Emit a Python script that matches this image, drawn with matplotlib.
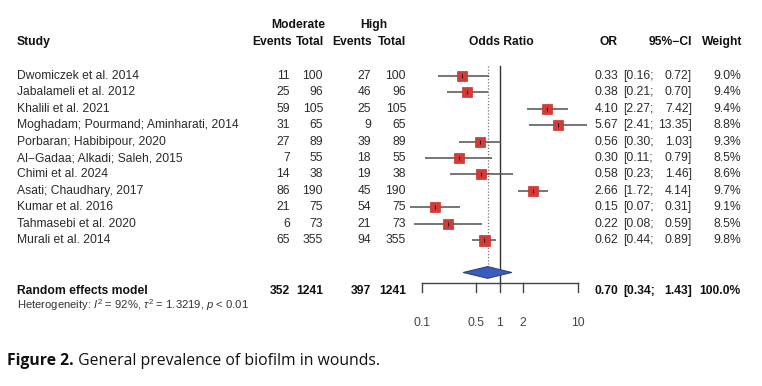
import matplotlib
matplotlib.use("Agg")
import matplotlib.pyplot as plt
from matplotlib.transforms import blended_transform_factory

# Fonts
plt.rcParams["font.family"] = ["Liberation Sans", "DejaVu Sans"]
plt.rcParams["mathtext.fontset"] = "custom"
plt.rcParams["mathtext.rm"] = "Liberation Sans"
plt.rcParams["mathtext.it"] = "Liberation Sans:italic"

# Data
studies = ["Dwomiczek et al. 2014", "Jabalameli et al. 2012", "Khalili et al. 2021",
           "Moghadam; Pourmand; Aminharati, 2014", "Porbaran; Habibipour, 2020",
           "Al\u2212Gadaa; Alkadi; Saleh, 2015", "Chimi et al. 2024", "Asati; Chaudhary, 2017",
           "Kumar et al. 2016", "Tahmasebi et al. 2020", "Murali et al. 2014"]
events_mod = [11, 25, 59, 31, 27, 7, 14, 86, 21, 6, 65]
total_mod = [100, 96, 105, 65, 89, 55, 38, 190, 75, 73, 355]
events_high = [27, 46, 25, 9, 39, 18, 19, 45, 54, 21, 94]
total_high = [100, 96, 105, 65, 89, 55, 38, 190, 75, 73, 355]
odds = [0.33, 0.38, 4.10, 5.67, 0.56, 0.30, 0.58, 2.66, 0.15, 0.22, 0.62]
ci_low = [0.16, 0.21, 2.27, 2.41, 0.30, 0.11, 0.23, 1.72, 0.07, 0.08, 0.44]
ci_high = [0.72, 0.70, 7.42, 13.35, 1.03, 0.79, 1.46, 4.14, 0.31, 0.59, 0.89]
weights = [9.0, 9.4, 9.4, 8.8, 9.3, 8.5, 8.6, 9.7, 9.1, 8.5, 9.8]

# Random effects summary
re_label = "Random effects model"
re_events_mod, re_total_mod = 352, 1241
re_events_high, re_total_high = 397, 1241
re_or, re_low, re_high = 0.70, 0.34, 1.43
heterogeneity = r"Heterogeneity: $I^2$ = 92%, $\tau^2$ = 1.3219, $p$ < 0.01"
tick_values = [0.1, 0.5, 1, 2, 10]
tick_labels = ["0.1", "0.5", "1", "2", "10"]
caption_bold = "Figure 2."
caption_rest = " General prevalence of biofilm in wounds."

# Layout (pixels)
W, H = 762, 386
px_dec = 78.0      # pixels per decade on the OR axis
x_01 = 421.7       # pixel position of OR = 0.1
row0 = 76.0        # pixel position of the first study row
row_px = 16.4      # pixels per row

fig = plt.figure(figsize=(W / 100, H / 100), dpi=100)
ax = fig.add_axes([0, 0, 1, 1])
ax.set_xscale("log")
ax.set_xlim(10 ** (-1 - x_01 / px_dec), 10 ** (-1 + (W - x_01) / px_dec))
ax.set_ylim((H - row0) / row_px, -row0 / row_px)
ax.axis("off")

# x in pixels, y in rows
tr = blended_transform_factory(fig.transFigure, ax.transData)
def fx(px):
    return px / W

fs = 8.7
dark = "#2b2b2b"
n = len(studies)
y_head = -2.1
y_head2 = -3.1
y_re = 13.09
y_diamond = 11.98
y_axis = 12.6
y_het = 13.96
y_ticklab = 15.05

# Headers
ax.text(fx(17), y_head, "Study", transform=tr, ha="left", va="center", fontsize=fs, weight="bold", color="#111")
ax.text(fx(298), y_head2, "Moderate", transform=tr, ha="center", va="center", fontsize=fs, weight="bold", color="#111")
ax.text(fx(374), y_head2, "High", transform=tr, ha="center", va="center", fontsize=fs, weight="bold", color="#111")
for xr, lab in [(292, "Events"), (324, "Total"), (372, "Events"), (406, "Total"),
                (618, "OR"), (692, "95%\u2212CI"), (742, "Weight")]:
    ax.text(fx(xr), y_head, lab, transform=tr, ha="right", va="center", fontsize=fs, weight="bold", color="#111")
ax.text(fx(501), y_head, "Odds Ratio", transform=tr, ha="center", va="center", fontsize=fs, weight="bold", color="#111")

# Study rows
for i in range(n):
    ax.text(fx(17), i, studies[i], transform=tr, ha="left", va="center", fontsize=fs, color=dark)
    ax.text(fx(290), i, str(events_mod[i]), transform=tr, ha="right", va="center", fontsize=fs, color=dark)
    ax.text(fx(323), i, str(total_mod[i]), transform=tr, ha="right", va="center", fontsize=fs, color=dark)
    ax.text(fx(371), i, str(events_high[i]), transform=tr, ha="right", va="center", fontsize=fs, color=dark)
    ax.text(fx(406), i, str(total_high[i]), transform=tr, ha="right", va="center", fontsize=fs, color=dark)
    ax.text(fx(618), i, f"{odds[i]:.2f}", transform=tr, ha="right", va="center", fontsize=fs, color=dark)
    ax.text(fx(623), i, f"[{ci_low[i]:.2f};", transform=tr, ha="left", va="center", fontsize=fs, color=dark)
    ax.text(fx(692), i, f"{ci_high[i]:.2f}]", transform=tr, ha="right", va="center", fontsize=fs, color=dark)
    ax.text(fx(741), i, f"{weights[i]:.1f}%", transform=tr, ha="right", va="center", fontsize=fs, color=dark)

    # CI line and square
    ax.plot([ci_low[i], ci_high[i]], [i, i], color="#505050", lw=1.1, solid_capstyle="butt", zorder=2)
    side = 11 * (weights[i] / max(weights)) ** 0.5
    ax.plot(odds[i], i, marker="s", ms=side * 0.72, mfc="#d43b36", mec="#c9302c", mew=0.5, zorder=3)
    ax.plot(odds[i], i, marker="|", ms=3.2, mec="#222", mew=0.8, zorder=4)

# Random effects row
for xr, lab in [(290, str(re_events_mod)), (323, str(re_total_mod)), (371, str(re_events_high)),
                (406, str(re_total_high)), (618, f"{re_or:.2f}"), (692, f"{re_high:.2f}]"), (741, "100.0%")]:
    ax.text(fx(xr), y_re, lab, transform=tr, ha="right", va="center", fontsize=fs, weight="bold", color="#111")
ax.text(fx(623), y_re, f"[{re_low:.2f};", transform=tr, ha="left", va="center", fontsize=fs, weight="bold", color="#111")
ax.text(fx(17), y_re, re_label, transform=tr, ha="left", va="center", fontsize=fs, weight="bold", color="#111")
ax.text(fx(17), y_het, heterogeneity, transform=tr, ha="left", va="center", fontsize=8.1, color="#333")

# Diamond
ax.fill([re_low, re_or, re_high, re_or], [y_diamond, y_diamond - 0.36, y_diamond, y_diamond + 0.36],
        facecolor="#3b5cb8", edgecolor="#1f3a8a", lw=0.7, zorder=3)

# Reference lines
ax.plot([1, 1], [-0.6, y_axis], color="#333", lw=1.0, zorder=1)
ax.plot([re_or, re_or], [-0.6, y_diamond - 0.36], color="#777", lw=0.9, ls=(0, (1, 1.5)), zorder=1)

# Axis
ax.plot([tick_values[0], tick_values[-1]], [y_axis, y_axis], color="#444", lw=1.0)
for tv, tl in zip(tick_values, tick_labels):
    ax.plot([tv, tv], [y_axis, y_axis + 0.55], color="#444", lw=1.0)
    ax.text(tv, y_ticklab, tl, ha="center", va="center", fontsize=fs, color="#444")

# Caption
t1 = fig.text(7.3 / W, 1 - 365 / H, caption_bold, ha="left", va="baseline", fontsize=11.35,
              weight="bold", family="Open Sans", color="#111")
fig.canvas.draw()
bb = t1.get_window_extent()
fig.text(bb.x1 / W, 1 - 365 / H, caption_rest, ha="left", va="baseline", fontsize=11.35,
         family="Open Sans", color="#111")

plt.savefig("out.png", dpi=100)
